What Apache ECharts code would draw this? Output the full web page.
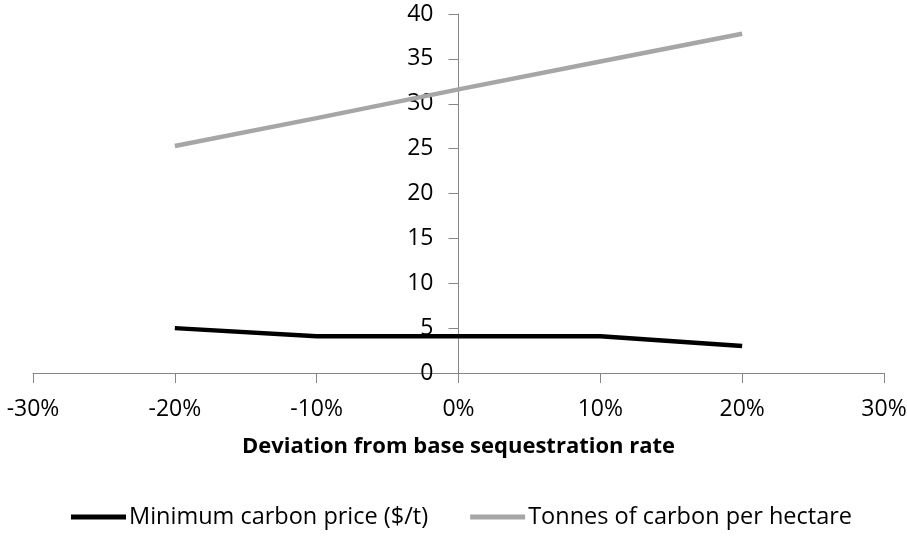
<!DOCTYPE html>
<html>
<head>
<meta charset="utf-8">
<script src="https://cdn.jsdelivr.net/npm/echarts@6/dist/echarts.min.js"></script>
<style>html,body{margin:0;padding:0;background:#fff}#c{width:907px;height:537px}</style>
</head>
<body>
<div id="c"></div>
<script>
const deviations = [-0.2, -0.1, 0, 0.1, 0.2];
const minCarbonPrice = [5.0, 4.1, 4.1, 4.1, 3.0];
const tonnesPerHectare = [25.3, 28.4, 31.6, 34.7, 37.8];
const seriesNames = ['Minimum carbon price ($/t)', 'Tonnes of carbon per hectare'];
const xTitle = 'Deviation from base sequestration rate';

const font = '"Open Sans", Lato, sans-serif';
const gridLeft = 33, gridRight = 23, W = 907;
const chart = echarts.init(document.getElementById('c'));
chart.setOption({
  animation: false,
  textStyle: { fontFamily: font },
  grid: { left: gridLeft, right: gridRight, top: 14, bottom: 164, outerBoundsMode: 'none', containLabel: false },
  legend: {
    bottom: 3, left: 66, itemWidth: 55, itemHeight: 5, itemGap: 42,
    textStyle: { fontSize: 23.5, color: '#000', fontFamily: font, padding: [0, 0, 0, -2] },
    data: seriesNames.map(n => ({ name: n, icon: 'rect' }))
  },
  xAxis: {
    type: 'value', min: -0.3, max: 0.3, interval: 0.1,
    name: xTitle, nameLocation: 'middle', nameGap: 63,
    nameTextStyle: { fontSize: 22, fontWeight: 'bold', color: '#000', fontFamily: font },
    axisLine: { onZero: false, lineStyle: { color: '#868686' } },
    axisTick: { length: 10, lineStyle: { color: '#868686' } },
    splitLine: { show: false },
    axisLabel: { fontSize: 23, color: '#000', margin: 25,
      formatter: v => Math.round(v * 100) + '%' }
  },
  yAxis: {
    type: 'value', min: 0, max: 40, interval: 5,
    offset: -((W - gridLeft - gridRight) / 2),
    axisLine: { show: true, onZero: false, lineStyle: { color: '#868686' } },
    axisTick: { show: true, length: 10, lineStyle: { color: '#868686' } },
    splitLine: { show: false },
    axisLabel: { fontSize: 23, color: '#000', margin: 25 }
  },
  series: [
    { name: seriesNames[0], type: 'line', symbol: 'none', color: '#000',
      lineStyle: { width: 4.5, color: '#000' },
      data: deviations.map((d, i) => [d, minCarbonPrice[i]]) },
    { name: seriesNames[1], type: 'line', symbol: 'none', color: '#a6a6a6',
      lineStyle: { width: 4.5, color: '#a6a6a6' },
      data: deviations.map((d, i) => [d, tonnesPerHectare[i]]) }
  ]
});
</script>
</body>
</html>
